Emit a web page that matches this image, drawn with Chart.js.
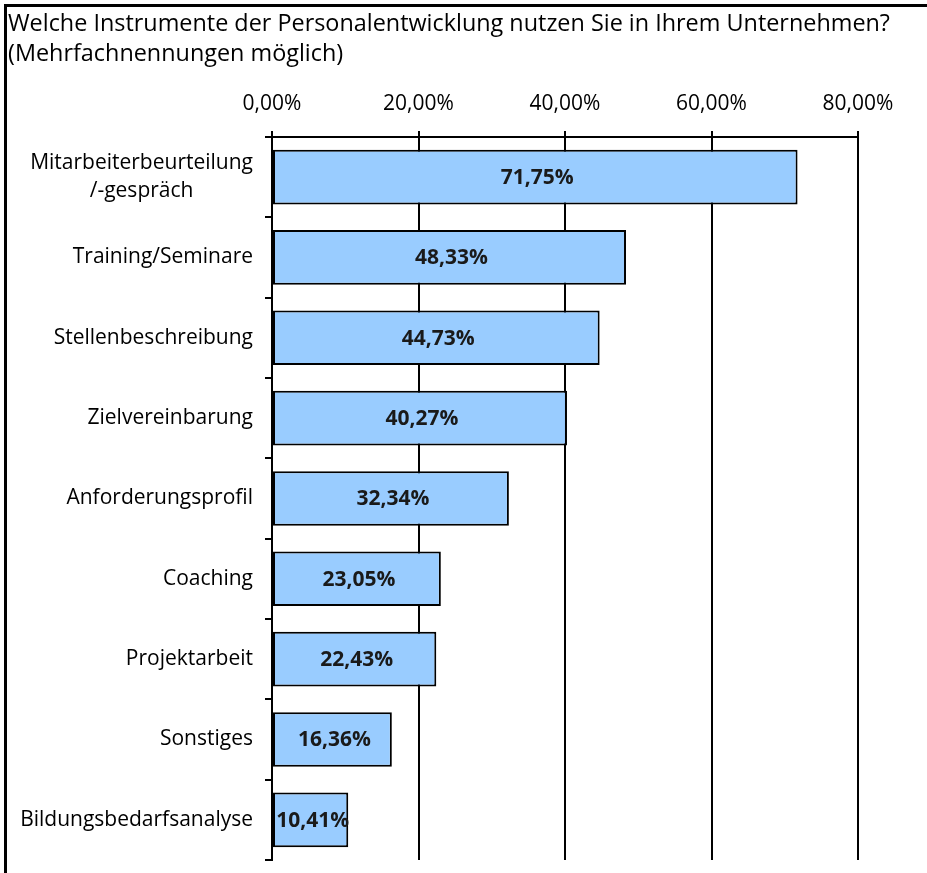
<!DOCTYPE html>
<html>
<head>
<meta charset="utf-8">
<script src="https://cdn.jsdelivr.net/npm/chart.js@4"></script>
<style>
  html, body { margin: 0; padding: 0; background: #fff; }
  #wrap { position: absolute; left: 0; top: 0; width: 927px; height: 873px; }
</style>
</head>
<body>
<div id="wrap"><canvas id="myChart"></canvas></div>
<script>
const titleLines = [
  'Welche Instrumente der Personalentwicklung nutzen Sie in Ihrem Unternehmen?',
  '(Mehrfachnennungen möglich)',
];
const labels = [
  ['Mitarbeiterbeurteilung', '/-gespräch'],
  'Training/Seminare',
  'Stellenbeschreibung',
  'Zielvereinbarung',
  'Anforderungsprofil',
  'Coaching',
  'Projektarbeit',
  'Sonstiges',
  'Bildungsbedarfsanalyse',
];
const values = [71.75, 48.33, 44.73, 40.27, 32.34, 23.05, 22.43, 16.36, 10.41];
const xTicks = [0, 20, 40, 60, 80];

const FONT = "'Open Sans', 'Noto Sans', sans-serif";
const fmt = v => v.toFixed(2).replace('.', ',') + '%';

// frame: only top and left edges
const framePlugin = {
  id: 'frame',
  beforeDraw(chart) {
    const ctx = chart.ctx;
    ctx.save();
    ctx.fillStyle = '#000';
    ctx.fillRect(4, 4, 923, 3);
    ctx.fillRect(4, 4, 3, 869);
    ctx.restore();
  }
};

// category labels, multi-line ones centred on themselves
const yLabelPlugin = {
  id: 'yLabels',
  afterDraw(chart) {
    const ctx = chart.ctx;
    const y = chart.scales.y;
    const right = 253;
    ctx.save();
    ctx.font = '21px ' + FONT;
    ctx.fillStyle = '#000';
    ctx.textBaseline = 'middle';
    ctx.textAlign = 'center';
    labels.forEach((lab, i) => {
      const lines = Array.isArray(lab) ? lab : [lab];
      const w = Math.max(...lines.map(l => ctx.measureText(l).width));
      const cy = y.getPixelForValue(i);
      const lh = 28;
      lines.forEach((l, k) => {
        ctx.fillText(l, right - w / 2, cy + (k - (lines.length - 1) / 2) * lh);
      });
    });
    ctx.restore();
  }
};

// value labels in the middle of each bar
const valueLabelPlugin = {
  id: 'valueLabels',
  afterDatasetsDraw(chart) {
    const ctx = chart.ctx;
    const meta = chart.getDatasetMeta(0);
    ctx.save();
    ctx.font = 'bold 21px ' + FONT;
    ctx.fillStyle = '#1a1a1a';
    ctx.textAlign = 'center';
    ctx.textBaseline = 'middle';
    meta.data.forEach((bar, i) => {
      ctx.fillText(fmt(values[i]), (bar.base + bar.x) / 2 + 2, bar.y + 1);
    });
    ctx.restore();
  }
};

const data = {
  labels: labels,
  datasets: [{
    data: values,
    backgroundColor: '#99CCFF',
    borderColor: '#000',
    borderWidth: 2,
    borderSkipped: false,
    barPercentage: 0.68,
    categoryPercentage: 1,
  }]
};

const config = {
  type: 'bar',
  data,
  options: {
    indexAxis: 'y',
    responsive: true,
    maintainAspectRatio: false,
    animation: false,
    layout: { padding: { left: 8, right: 0, top: 0, bottom: 13 } },
    plugins: {
      legend: { display: false },
      tooltip: { enabled: false },
      title: {
        display: true,
        text: titleLines,
        align: 'start',
        color: '#000',
        font: { family: FONT, size: 23.4, weight: 'normal', lineHeight: 1.28 },
        padding: { top: 9, bottom: 0 },
      }
    },
    scales: {
      x: {
        position: 'top',
        min: 0,
        max: 80,
        afterBuildTicks: s => { s.ticks = xTicks.map(v => ({ value: v })); },
        afterFit: s => { s.height = 68; },
        grid: { color: '#000', lineWidth: 2, tickLength: 6, tickColor: '#000' },
        border: { color: '#000', width: 2 },
        ticks: {
          color: '#000',
          padding: 14,
          font: { family: FONT, size: 21 },
          callback: v => fmt(v),
        }
      },
      y: {
        afterFit: s => { s.width = 264; },
        grid: { offset: true, drawOnChartArea: false, color: '#000', lineWidth: 2, tickLength: 7 },
        border: { color: '#000', width: 2 },
        ticks: { display: false }
      },
      // empty space on the right of the plot, keeps the title at full width
      spacer: {
        type: 'linear',
        position: 'right',
        afterFit: s => { s.width = 69; },
        grid: { display: false },
        border: { display: false },
        ticks: { display: false }
      }
    }
  },
  plugins: [framePlugin, yLabelPlugin, valueLabelPlugin]
};

var myChart = new Chart(document.getElementById('myChart'), config);
</script>
</body>
</html>
